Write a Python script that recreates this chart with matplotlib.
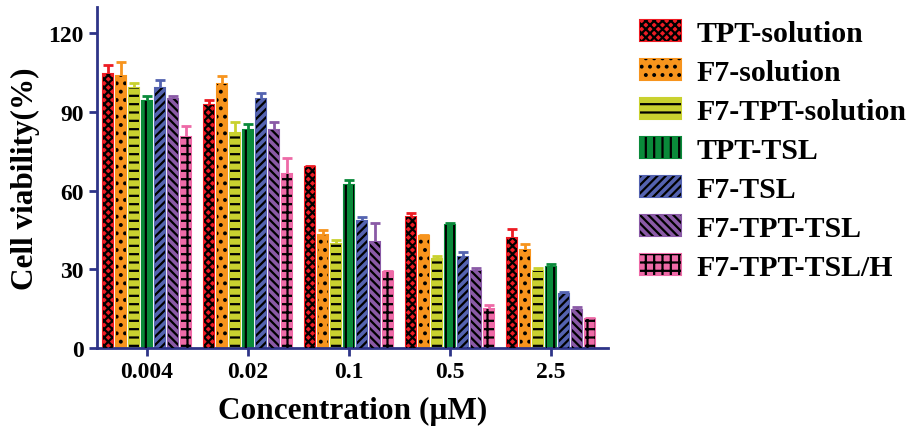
import numpy as np
import matplotlib
matplotlib.use("Agg")
import matplotlib.pyplot as plt
from matplotlib.patches import Patch

plt.rcParams["font.family"] = ["Liberation Serif", "DejaVu Serif"]
plt.rcParams["font.weight"] = "bold"
plt.rcParams["hatch.linewidth"] = 1.6

concentrations = ["0.004", "0.02", "0.1", "0.5", "2.5"]
groups = ["TPT-solution", "F7-solution", "F7-TPT-solution", "TPT-TSL",
          "F7-TSL", "F7-TPT-TSL", "F7-TPT-TSL/H"]

# mean viability (%) per group, one value per concentration
means = [
    [104.5, 92.5, 69.0, 50.0, 42.0],
    [103.5, 100.5, 43.0, 42.5, 37.5],
    [99.0, 82.0, 39.5, 34.0, 29.5],
    [94.0, 83.0, 62.0, 47.0, 31.0],
    [99.0, 95.0, 48.5, 34.5, 20.5],
    [95.0, 83.0, 40.5, 29.5, 14.5],
    [80.5, 66.5, 29.0, 15.0, 11.0],
]
errs = [
    [3.5, 2.0, 0.5, 1.5, 3.5],
    [5.5, 3.0, 2.0, 0.5, 2.0],
    [2.0, 4.0, 1.5, 1.0, 1.0],
    [2.0, 2.5, 2.0, 0.5, 1.0],
    [3.0, 2.0, 1.5, 2.0, 1.0],
    [1.0, 3.0, 7.0, 1.0, 1.0],
    [4.0, 6.0, 0.5, 1.5, 0.5],
]

colors = ["#ed1c24", "#f7941d", "#c9d12f", "#0a8a3a", "#5463b0", "#8a5aa6", "#ee6aa7"]
hatches = ["xxxx", "..", "--", "||", "////", "\\\\\\\\", "++"]
navy = "#2e3488"

fig = plt.figure(figsize=(9.07, 4.39), dpi=100)
ax = fig.add_axes([0.107, 0.205, 0.563, 0.777])

x = np.arange(len(concentrations))
slot = 0.128
width = 0.10
handles = []
for i, g in enumerate(groups):
    pos = x + (i - 3) * slot
    m = np.array(means[i])
    e = np.array(errs[i])
    ax.errorbar(pos, m, yerr=[np.zeros_like(e), e], fmt="none", ecolor=colors[i],
                elinewidth=2, capsize=3.5, capthick=2, zorder=1)
    ax.bar(pos, m, width, color=colors[i], edgecolor=colors[i], linewidth=1.5, zorder=2)
    ax.bar(pos, m, width, fill=False, edgecolor="black", hatch=hatches[i],
           linewidth=0, zorder=3)
    handles.append((Patch(facecolor=colors[i], edgecolor=colors[i], linewidth=1.5),
                    Patch(fill=False, edgecolor="black", hatch=hatches[i], linewidth=0)))

ax.set_xlim(-0.495, 4.56)
ax.set_ylim(0, 130)
ax.set_yticks([0, 30, 60, 90, 120])
ax.set_xticks(x)
ax.set_xticklabels(concentrations)
for s in ["top", "right"]:
    ax.spines[s].set_visible(False)
for s in ["left", "bottom"]:
    ax.spines[s].set_color(navy)
    ax.spines[s].set_linewidth(2)
ax.tick_params(colors=navy, width=2, length=6, labelcolor="black", labelsize=17)
ax.set_xlabel("Concentration (\u00b5M)", fontsize=22.5, fontweight="bold", labelpad=10)
ax.set_ylabel("Cell viability(%)", fontsize=22.5, fontweight="bold", labelpad=6)

fig.legend(handles, groups, loc="upper left", bbox_to_anchor=(0.683, 1.0),
           frameon=False, fontsize=21.5, handlelength=1.35, handleheight=0.7,
           labelspacing=0.4, handletextpad=0.53, borderaxespad=0.3)

fig.savefig("out.png", dpi=100)
